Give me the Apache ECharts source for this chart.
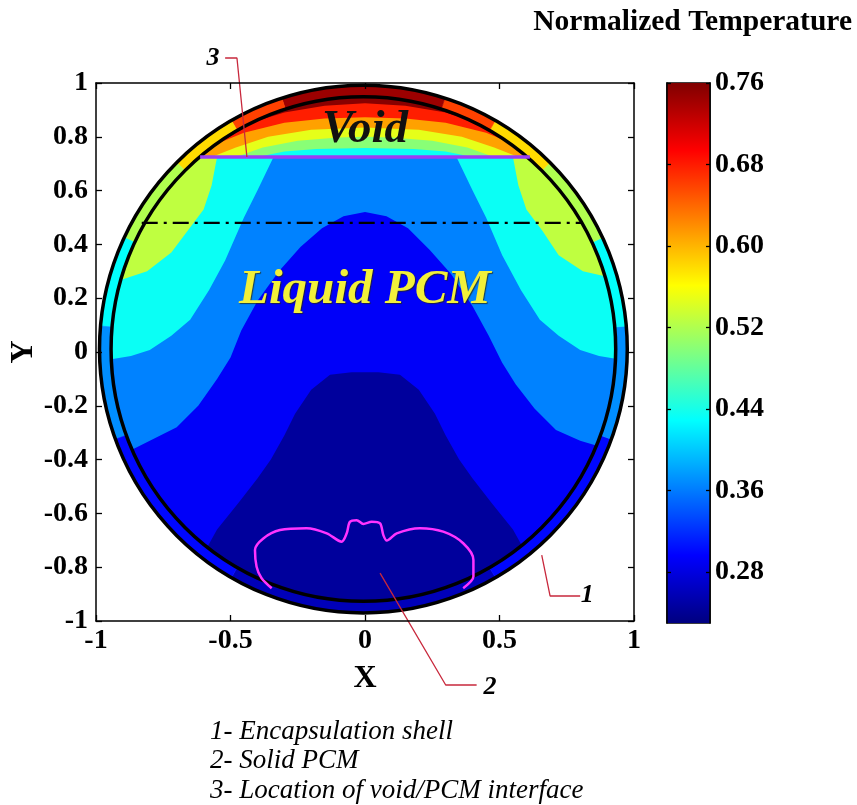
<!DOCTYPE html>
<html><head><meta charset="utf-8">
<script src="https://cdn.jsdelivr.net/npm/echarts@6/dist/echarts.min.js"></script>
<style>html,body{margin:0;padding:0;background:#fff}#c{width:857px;height:805px}</style>
</head><body><div id="c"></div>
<script>
// ================= DATA =================
const xTickStep = 0.5, yTickStep = 0.2;
const colorbarRange = [0.23, 0.76];
const colorbarTicks = [0.28, 0.36, 0.44, 0.52, 0.60, 0.68, 0.76];

// encapsulation shell geometry (data units)
const shellCenter = [-0.006, 0.011];
const shellOuterR = 0.981;
const shellInnerR = 0.938;
// shell colour by angle: [startDeg, endDeg, normalized temperature]
const shellBands = [
  [-120, -60, 0.26], [-60, -20, 0.30], [-20, 5, 0.37], [5, 25, 0.43], [25, 45, 0.52],
  [45, 60, 0.58], [60, 72, 0.66], [72, 108, 0.745], [108, 120, 0.66], [120, 135, 0.58],
  [135, 155, 0.52], [155, 175, 0.43], [175, 200, 0.37], [200, 240, 0.30]
];

// band temperatures (representative value of each filled contour band)
const liquidBandValues = [0.528, 0.434, 0.364, 0.293, 0.245]; // base, cyan, mid-blue, blue, navy
const voidBandValues = [0.755, 0.678, 0.61, 0.548, 0.50, 0.434]; // base dark red .. cyan

// liquid isotherms (left -> right)
const isoLiquid046 = [[-1,0.26],[-0.9,0.27],[-0.81,0.30],[-0.72,0.37],[-0.66,0.45],[-0.60,0.53],[-0.57,0.62],[-0.55,0.725],
  [0.55,0.725],[0.57,0.62],[0.60,0.53],[0.66,0.45],[0.72,0.36],[0.81,0.30],[0.9,0.28],[1,0.27]];
const isoLiquid040 = [[-1,-0.04],[-0.96,-0.03],[-0.87,-0.015],[-0.8,0.007],[-0.72,0.06],[-0.65,0.12],[-0.58,0.23],[-0.52,0.34],[-0.45,0.5],[-0.40,0.6],[-0.34,0.725],
  [0.34,0.725],[0.40,0.6],[0.45,0.5],[0.51,0.36],[0.58,0.23],[0.65,0.12],[0.72,0.06],[0.80,0.007],[0.87,-0.015],[0.96,-0.03],[1,-0.04]];
const isoLiquid034 = [[-1,-0.42],[-0.9,-0.38],[-0.8,-0.33],[-0.70,-0.28],[-0.62,-0.2],[-0.55,-0.1],[-0.50,-0.02],[-0.46,0.08],[-0.40,0.19],[-0.32,0.30],[-0.24,0.39],[-0.16,0.46],[-0.08,0.505],[0,0.52],
  [0.08,0.505],[0.16,0.46],[0.24,0.38],[0.32,0.29],[0.40,0.17],[0.46,0.06],[0.51,-0.04],[0.56,-0.12],[0.63,-0.21],[0.71,-0.29],[0.80,-0.33],[0.9,-0.36],[1,-0.40]];
const isoLiquid028 = [[-1,-0.80],[-0.6,-0.75],[-0.55,-0.66],[-0.47,-0.56],[-0.40,-0.47],[-0.35,-0.40],[-0.30,-0.31],[-0.26,-0.23],[-0.20,-0.14],[-0.13,-0.085],[-0.05,-0.075],
  [0.05,-0.075],[0.13,-0.085],[0.20,-0.14],[0.26,-0.23],[0.30,-0.31],[0.35,-0.40],[0.40,-0.47],[0.47,-0.56],[0.55,-0.66],[0.6,-0.75],[1,-0.80]];

// void isotherms (left -> right, ending on the interface)
const isoVoid072 = [[-0.62,0.725],[-0.5,0.81],[-0.4,0.86],[-0.3,0.89],[-0.15,0.915],[0,0.925],[0.15,0.915],[0.3,0.89],[0.4,0.86],[0.5,0.81],[0.62,0.725]];
const isoVoid064 = [[-0.64,0.725],[-0.56,0.77],[-0.45,0.815],[-0.3,0.852],[-0.15,0.868],[0,0.873],[0.15,0.868],[0.3,0.852],[0.45,0.815],[0.56,0.77],[0.64,0.725]];
const isoVoid058 = [[-0.57,0.725],[-0.48,0.76],[-0.36,0.80],[-0.2,0.826],[0,0.835],[0.2,0.826],[0.36,0.80],[0.48,0.76],[0.57,0.725]];
const isoVoid052 = [[-0.48,0.725],[-0.38,0.76],[-0.25,0.785],[-0.1,0.797],[0,0.80],[0.1,0.797],[0.25,0.785],[0.38,0.76],[0.48,0.725]];
const isoVoid046 = [[-0.40,0.725],[-0.30,0.745],[-0.18,0.755],[0,0.758],[0.18,0.755],[0.30,0.745],[0.40,0.725]];

const interfaceLine = [[-0.613,0.725],[0.613,0.725]];
const dashDotLine = [[-0.83,0.48],[0.81,0.48]];
const solidPcmOutline = [[-0.347,-0.878],[-0.385,-0.84],[-0.403,-0.798],[-0.409,-0.736],[-0.378,-0.693],[-0.316,-0.662],[-0.217,-0.655],[-0.142,-0.674],[-0.087,-0.705],
  [-0.068,-0.674],[-0.056,-0.631],[-0.031,-0.625],[-0.006,-0.639],[0.025,-0.631],[0.056,-0.637],[0.068,-0.680],[0.081,-0.701],[0.118,-0.674],
  [0.204,-0.655],[0.291,-0.668],[0.365,-0.711],[0.403,-0.773],[0.403,-0.835],[0.365,-0.878]];

const leaderLines = [
  [[0.80,-0.907],[0.688,-0.907],[0.657,-0.755]],
  [[0.415,-1.238],[0.30,-1.238],[0.056,-0.822]],
  [[-0.52,1.093],[-0.476,1.093],[-0.439,0.725]]
];
const leaderLabels = ['1', '2', '3'];
const leaderLabelAnchors = [[0.826,-0.905],[0.465,-1.245],[-0.565,1.093]];
const legendLines = ['1- Encapsulation shell', '2- Solid PCM', '3- Location of void/PCM interface'];

// ================= RENDER =================
const SERIF = '"Liberation Serif", "Times New Roman", serif';
function jet(v) {
  const t = Math.min(1, Math.max(0, (v - colorbarRange[0]) / (colorbarRange[1] - colorbarRange[0])));
  const c = x => Math.round(255 * Math.min(1, Math.max(0, x)));
  return 'rgb(' + c(1.5 - Math.abs(4 * t - 3)) + ',' + c(1.5 - Math.abs(4 * t - 2)) + ',' + c(1.5 - Math.abs(4 * t - 1)) + ')';
}
function polySeries(points, value) {
  return { type: 'custom', xAxisIndex: 0, yAxisIndex: 0, silent: true, clip: true, data: [0],
    renderItem: (p, api) => ({ type: 'polygon', shape: { points: points.map(pt => api.coord(pt)) }, style: { fill: jet(value) } }) };
}
function underCurve(curve) { return curve.slice(); }
function capUnder(curve) { return curve.concat([[1, -1], [-1, -1]]); }

const series = [];
// liquid
series.push(polySeries([[-1,-1],[1,-1],[1,0.725],[-1,0.725]], liquidBandValues[0]));
[isoLiquid046, isoLiquid040, isoLiquid034, isoLiquid028].forEach((iso, i) => series.push(polySeries(capUnder(iso), liquidBandValues[i + 1])));
// void
series.push(polySeries([[-1,0.725],[1,0.725],[1,1],[-1,1]], voidBandValues[0]));
[isoVoid072, isoVoid064, isoVoid058, isoVoid052, isoVoid046].forEach((iso, i) => series.push(polySeries(underCurve(iso), voidBandValues[i + 1])));
// white mask outside the inner wall
series.push({ type: 'custom', xAxisIndex: 0, yAxisIndex: 0, silent: true, clip: true, data: [0],
  renderItem: (p, api) => { const c = api.coord(shellCenter); const r0 = api.size([shellInnerR, 0])[0];
    return { type: 'ring', shape: { cx: c[0], cy: c[1], r0: r0, r: r0 * 3 }, style: { fill: '#ffffff' } }; } });
// shell bands
series.push({ type: 'custom', xAxisIndex: 0, yAxisIndex: 0, silent: true, clip: false, data: shellBands.map((b, i) => [i]),
  renderItem: (p, api) => { const b = shellBands[p.dataIndex]; const c = api.coord(shellCenter);
    const r0 = api.size([shellInnerR, 0])[0], r = api.size([shellOuterR, 0])[0];
    return { type: 'sector', shape: { cx: c[0], cy: c[1], r0: r0, r: r, startAngle: -b[1] * Math.PI / 180, endAngle: -b[0] * Math.PI / 180, clockwise: true },
      style: { fill: jet(b[2]), stroke: jet(b[2]), lineWidth: 0.6 } }; } });
// black walls
series.push({ type: 'custom', xAxisIndex: 0, yAxisIndex: 0, silent: true, clip: false, data: [shellOuterR, shellInnerR].map(r => [r]),
  renderItem: (p, api) => { const c = api.coord(shellCenter); const r = api.size([[shellOuterR, shellInnerR][p.dataIndex], 0])[0];
    return { type: 'circle', shape: { cx: c[0], cy: c[1], r: r }, style: { fill: 'none', stroke: '#000', lineWidth: 3.5 } }; } });
// interface, dash-dot line, solid PCM outline
series.push({ type: 'line', data: interfaceLine, showSymbol: false, silent: true, lineStyle: { color: '#9a3cf5', width: 3.5 } });
series.push({ type: 'line', data: dashDotLine, showSymbol: false, silent: true, lineStyle: { color: '#000', width: 2.2, type: [16, 6, 3, 6] } });
series.push({ type: 'line', data: solidPcmOutline, showSymbol: false, silent: true, smooth: 0.3, lineStyle: { color: '#ff33ff', width: 2.5 } });
// leaders
leaderLines.forEach(l => series.push({ type: 'line', data: l, showSymbol: false, silent: true, clip: false, lineStyle: { color: '#c8283c', width: 1.3 } }));
series.push({ type: 'custom', xAxisIndex: 0, yAxisIndex: 0, silent: true, clip: false, data: leaderLabels.map((s, i) => [i]),
  renderItem: (p, api) => { const c = api.coord(leaderLabelAnchors[p.dataIndex]);
    return { type: 'text', x: c[0], y: c[1], style: { text: leaderLabels[p.dataIndex], font: 'italic bold 26px ' + SERIF, fill: '#000', align: 'center', verticalAlign: 'middle' } }; } });
// in-plot labels
series.push({ type: 'custom', xAxisIndex: 0, yAxisIndex: 0, silent: true, clip: false, data: [[0]],
  renderItem: (p, api) => { const a = api.coord([0, 0.825]); const b = api.coord([0, 0.23]);
    return { type: 'group', children: [
      { type: 'text', x: a[0], y: a[1], style: { text: 'Void', font: 'italic bold 47px ' + SERIF, fill: '#111', align: 'center', verticalAlign: 'middle' } },
      { type: 'text', x: b[0], y: b[1], style: { text: 'Liquid PCM', font: 'italic bold 49px ' + SERIF, fill: '#f2f03a', align: 'center', verticalAlign: 'middle',
        textShadowColor: 'rgba(40,40,0,0.7)', textShadowOffsetX: 1, textShadowOffsetY: 1, textShadowBlur: 1 } } ] }; } });
// colorbar
series.push({ type: 'custom', xAxisIndex: 2, yAxisIndex: 2, silent: true, data: [[0]],
  renderItem: (p, api) => { const a = api.coord([0, colorbarRange[1]]); const b = api.coord([1, colorbarRange[0]]);
    const stops = []; for (let i = 0; i <= 40; i++) { const v = colorbarRange[0] + (colorbarRange[1] - colorbarRange[0]) * i / 40; stops.push({ offset: i / 40, color: jet(v) }); }
    return { type: 'rect', shape: { x: a[0], y: a[1], width: b[0] - a[0], height: b[1] - a[1] },
      style: { fill: { type: 'linear', x: 0, y: 1, x2: 0, y2: 0, colorStops: stops } } }; } });

const tickLabel = { color: '#000', fontFamily: SERIF, fontWeight: 'bold', fontSize: 28 };
const blackLine = { show: true, onZero: false, lineStyle: { color: '#000', width: 1.5 } };
const tickStyle = { color: '#000', width: 1.3 };
const option = {
  backgroundColor: '#fff',
  animation: false,
  grid: [
    { left: 96, top: 83, width: 538, height: 538, outerBoundsMode: 'none', containLabel: false },
    { left: 667, top: 83, width: 43, height: 540, outerBoundsMode: 'none', containLabel: false, show: true, borderColor: '#000', borderWidth: 1.5 }
  ],
  xAxis: [
    { gridIndex: 0, type: 'value', min: -1, max: 1, interval: xTickStep, position: 'bottom', z: 10, axisLine: blackLine,
      axisTick: { inside: true, length: 6, lineStyle: tickStyle }, splitLine: { show: false },
      axisLabel: Object.assign({ margin: 6 }, tickLabel),
      name: 'X', nameLocation: 'middle', nameGap: 42, nameTextStyle: { color: '#000', fontFamily: SERIF, fontWeight: 'bold', fontSize: 32 } },
    { gridIndex: 0, type: 'value', min: -1, max: 1, interval: xTickStep, position: 'top', z: 10, axisLine: blackLine,
      axisTick: { inside: true, length: 6, lineStyle: tickStyle }, splitLine: { show: false }, axisLabel: { show: false } },
    { gridIndex: 1, type: 'value', min: 0, max: 1, show: false }
  ],
  yAxis: [
    { gridIndex: 0, type: 'value', min: -1, max: 1, interval: yTickStep, position: 'left', z: 10, axisLine: blackLine,
      axisTick: { inside: true, length: 6, lineStyle: tickStyle }, splitLine: { show: false },
      axisLabel: Object.assign({ margin: 8 }, tickLabel),
      name: 'Y', nameLocation: 'middle', nameGap: 56, nameMoveOverlap: false, nameTextStyle: { color: '#000', fontFamily: SERIF, fontWeight: 'bold', fontSize: 32 } },
    { gridIndex: 0, type: 'value', min: -1, max: 1, interval: yTickStep, position: 'right', z: 10, axisLine: blackLine,
      axisTick: { inside: true, length: 6, lineStyle: tickStyle }, splitLine: { show: false }, axisLabel: { show: false } },
    { gridIndex: 1, type: 'value', min: colorbarRange[0], max: colorbarRange[1], position: 'right', z: 10, axisLine: blackLine,
      axisTick: { inside: true, length: 4, customValues: colorbarTicks, lineStyle: tickStyle }, splitLine: { show: false },
      axisLabel: Object.assign({ margin: 5, customValues: colorbarTicks, formatter: v => v.toFixed(2) }, tickLabel) },
    { gridIndex: 1, type: 'value', min: colorbarRange[0], max: colorbarRange[1], position: 'left', z: 10, axisLine: blackLine,
      axisTick: { inside: true, length: 4, customValues: colorbarTicks, lineStyle: tickStyle }, splitLine: { show: false }, axisLabel: { show: false } }
  ],
  graphic: [
    { type: 'text', right: 5, top: 7, style: { text: 'Normalized Temperature', font: 'bold 29.5px ' + SERIF, fill: '#000' } }
  ].concat(legendLines.map((s, i) => ({ type: 'text', left: 210, top: 718 + i * 29.5, style: { text: s, font: 'italic 27px ' + SERIF, fill: '#000' } }))),
  series: series
};
const chart = echarts.init(document.getElementById('c'));
chart.setOption(option);
</script>
</body></html>
